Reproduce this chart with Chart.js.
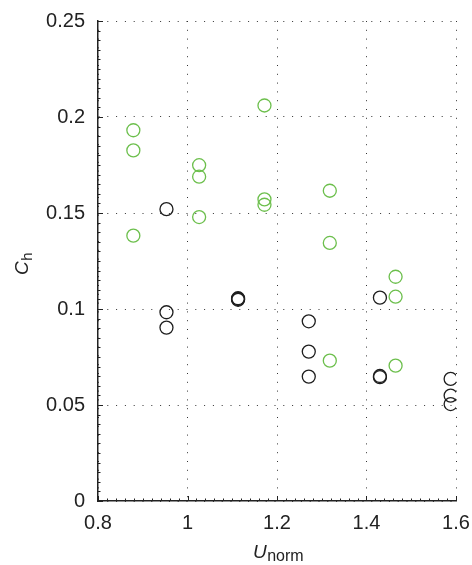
<!DOCTYPE html>
<html>
<head>
<meta charset="utf-8">
<script src="https://cdn.jsdelivr.net/npm/chart.js@4/dist/chart.umd.min.js"></script>
<style>
  html, body { margin: 0; padding: 0; background: #fff; }
  #wrap { width: 472px; height: 565px; position: relative; }
</style>
</head>
<body>
<div id="wrap"><canvas id="chart"></canvas></div>
<script>
// Valeurs
const blackX = [0.953, 0.953, 0.953, 1.113, 1.113, 1.113, 1.271, 1.271, 1.271, 1.430, 1.430, 1.430, 1.588, 1.588, 1.588];
const blackY = [0.152, 0.0983, 0.0903, 0.1048, 0.1052, 0.1056, 0.0936, 0.0778, 0.0648, 0.1059, 0.0645, 0.0651, 0.0636, 0.0549, 0.0505];

const greenX = [0.879, 0.879, 0.879, 1.026, 1.026, 1.026, 1.172, 1.172, 1.172, 1.318, 1.318, 1.318, 1.465, 1.465, 1.465];
const greenY = [0.1931, 0.1826, 0.1382, 0.1749, 0.1689, 0.1479, 0.206, 0.1571, 0.1543, 0.1616, 0.1344, 0.0731, 0.1168, 0.1064, 0.0705];

const xTicks = [0.8, 1, 1.2, 1.4, 1.6];
const xTickLabels = ['0.8', '1', '1.2', '1.4', '1.6'];
const yTicks = [0, 0.05, 0.1, 0.15, 0.2, 0.25];
const yTickLabels = ['0', '0.05', '0.1', '0.15', '0.2', '0.25'];

const FONT = '"Liberation Sans", Arial, Helvetica, sans-serif';
const INK = '#222';

function toPoints(xs, ys) {
    return xs.map((x, i) => ({ x: x, y: ys[i] }));
}

// Petits traits de graduation vers l'intérieur + titres d'axes avec indice
const axisExtras = {
    id: 'axisExtras',
    afterDraw(chart) {
        const ctx = chart.ctx;
        const xs = chart.scales.x;
        const ys = chart.scales.y;
        const area = chart.chartArea;

        ctx.save();
        ctx.strokeStyle = INK;
        ctx.lineWidth = 1;
        for (let i = 0; i <= 40; i++) {
            const v = 0.8 + i * 0.02;
            const px = Math.round(xs.getPixelForValue(v)) + 0.5;
            const len = (i % 10 === 0) ? 5 : 2.5;
            ctx.beginPath();
            ctx.moveTo(px, area.bottom);
            ctx.lineTo(px, area.bottom - len);
            ctx.stroke();
        }
        for (let i = 0; i <= 50; i++) {
            const v = i * 0.005;
            const py = Math.round(ys.getPixelForValue(v)) + 0.5;
            const len = (i % 10 === 0) ? 5 : 2.5;
            ctx.beginPath();
            ctx.moveTo(area.left, py);
            ctx.lineTo(area.left + len, py);
            ctx.stroke();
        }

        ctx.fillStyle = INK;
        ctx.textAlign = 'left';
        ctx.textBaseline = 'alphabetic';

        // titre axe x : U_norm
        ctx.font = 'italic 19px ' + FONT;
        const ux = 253;
        ctx.fillText('U', ux, 558);
        const wU = ctx.measureText('U').width;
        ctx.font = '16px ' + FONT;
        ctx.fillText('norm', ux + wU + 0.5, 561);

        // titre axe y : C_h
        ctx.translate(28, 275);
        ctx.rotate(-Math.PI / 2);
        ctx.font = 'italic 19px ' + FONT;
        ctx.fillText('C', 0, 0);
        const wC = ctx.measureText('C').width;
        ctx.font = '15px ' + FONT;
        ctx.fillText('h', wC + 0.5, 4);
        ctx.restore();
    }
};

const ctx = document.getElementById('chart').getContext('2d');
new Chart(ctx, {
    type: 'scatter',
    data: {
        datasets: [
            {
                label: 'noir',
                data: toPoints(blackX, blackY),
                borderColor: '#1e1e1e',
                backgroundColor: 'rgba(0,0,0,0)',
                borderWidth: 1.3,
                pointRadius: 6.5,
                pointHoverRadius: 6.5
            },
            {
                label: 'vert',
                data: toPoints(greenX, greenY),
                borderColor: '#6cbf4c',
                backgroundColor: 'rgba(0,0,0,0)',
                borderWidth: 1.3,
                pointRadius: 6.5,
                pointHoverRadius: 6.5
            }
        ]
    },
    options: {
        responsive: true,
        maintainAspectRatio: false,
        animation: false,
        layout: { padding: { left: 0, right: 16, top: 21, bottom: 0 } },
        plugins: {
            legend: { display: false },
            tooltip: { enabled: false }
        },
        scales: {
            x: {
                type: 'linear',
                min: 0.8,
                max: 1.6,
                afterBuildTicks: (scale) => { scale.ticks = xTicks.map(v => ({ value: v })); },
                afterFit: (scale) => {
                    scale.height = 64;
                    scale.paddingLeft = 0;
                    scale.paddingRight = 0;
                },
                ticks: {
                    padding: 10,
                    color: INK,
                    font: { family: FONT, size: 20 },
                    maxRotation: 0,
                    callback: (value, index) => xTickLabels[index]
                },
                grid: { color: '#333', lineWidth: 1, drawTicks: false },
                border: { display: true, color: INK, width: 1.5, dash: [1, 7.8] }
            },
            y: {
                type: 'linear',
                min: 0,
                max: 0.25,
                afterBuildTicks: (scale) => { scale.ticks = yTicks.map(v => ({ value: v })); },
                afterFit: (scale) => {
                    scale.width = 98;
                    scale.paddingTop = 0;
                    scale.paddingBottom = 0;
                },
                ticks: {
                    padding: 13,
                    color: INK,
                    font: { family: FONT, size: 20 },
                    callback: (value, index) => yTickLabels[index]
                },
                grid: { color: '#333', lineWidth: 1, drawTicks: false },
                border: { display: true, color: INK, width: 1.5, dash: [1, 7.8] }
            }
        }
    },
    plugins: [axisExtras]
});
</script>
</body>
</html>
